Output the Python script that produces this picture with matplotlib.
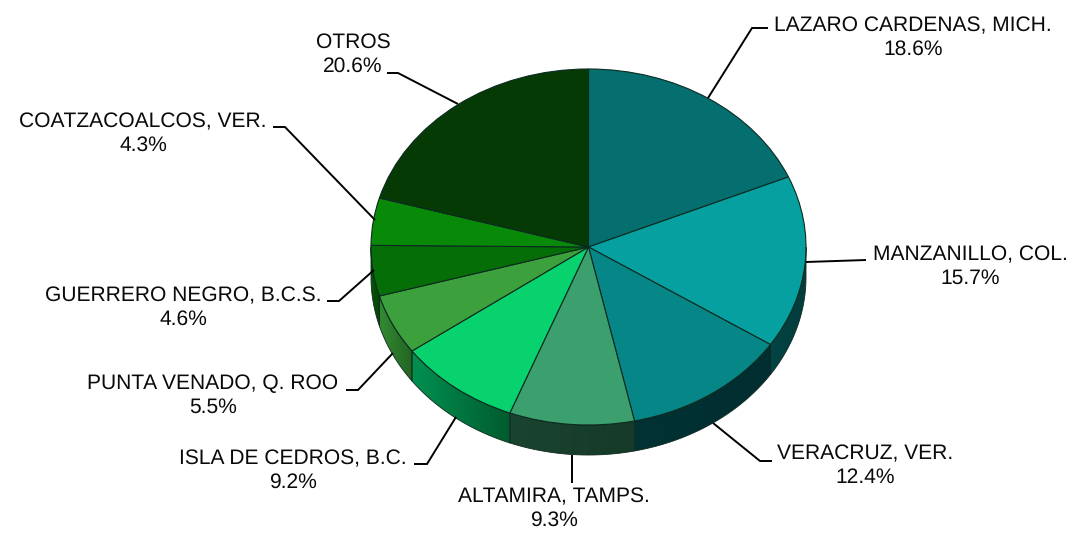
import numpy as np
import matplotlib
matplotlib.use("Agg")
import matplotlib.pyplot as plt
from matplotlib.patches import Polygon
from matplotlib.colors import LinearSegmentedColormap

names = ["LAZARO CARDENAS, MICH.", "MANZANILLO, COL.", "VERACRUZ, VER.", "ALTAMIRA, TAMPS.",
         "ISLA DE CEDROS, B.C.", "PUNTA VENADO, Q. ROO", "GUERRERO NEGRO, B.C.S.",
         "COATZACOALCOS, VER.", "OTROS"]
values = [18.6, 15.7, 12.4, 9.3, 9.2, 5.5, 4.6, 4.3, 20.6]
top_colors = ["#056e6e", "#07a0a0", "#068686", "#3c9f6e", "#08d26e", "#3ca03c", "#066e06", "#088a08", "#053a05"]
rim_left = ["#034040", "#034444", "#013234", "#1a4430", "#009050", "#338a33", "#055505", "#055505", "#032503"]
rim_right = ["#034040", "#033c3c", "#012e30", "#163a28", "#005c2e", "#226622", "#044404", "#044404", "#032503"]

text_centers = [(913, 37.5), (970, 266.5), (865, 465.5), (554, 508.5), (293, 470.5), (213, 395.5), (183, 307.5), (143, 133.5), (353, 54.5)]
leaders = [
    [(708, 98), (752, 28), (768, 28)],
    [(806, 262), (866, 260)],
    [(713, 423), (760, 461), (772, 461)],
    [(572, 455), (572, 483)],
    [(456, 417), (427, 464), (414, 464)],
    [(393, 353), (358, 390), (346, 390)],
    [(374, 270), (339, 301), (327, 301)],
    [(375, 220), (285, 127), (273, 127)],
    [(458, 104), (398, 73), (387, 73)],
]

W, H = 1074, 534
CX, CY, RX, RY, DEPTH = 588.5, 247, 217.5, 178, 30
plt.rcParams["font.family"] = ["Liberation Sans", "DejaVu Sans"]
plt.rcParams["text.hinting"] = "none"
plt.rcParams["text.hinting_factor"] = 1

fig = plt.figure(figsize=(W / 100, H / 100), dpi=100, facecolor="white")
ax = fig.add_axes([0, 0, 1, 1])
ax.set_xlim(0, W)
ax.set_ylim(H, 0)
ax.axis("off")

pie_ax = fig.add_axes([0, 0, 1, 1], facecolor="none")
pie_ax.pie(values, colors=top_colors, startangle=90, counterclock=False, radius=1, center=(0, 0),
           wedgeprops=dict(edgecolor="#0b2a20", linewidth=0.8), frame=True)
pie_ax.set_aspect("auto")
pie_ax.set_xlim(-CX / RX, (W - CX) / RX)
pie_ax.set_ylim((CY - H) / RY, CY / RY)
pie_ax.axis("off")

cum = np.concatenate([[0], np.cumsum(values)]) / sum(values) * 2 * np.pi
for i in range(len(values)):
    a0, a1 = cum[i], cum[i + 1]
    lo, hi = max(a0, np.pi / 2), min(a1, 3 * np.pi / 2)
    if hi <= lo:
        continue
    t = np.linspace(lo, hi, 80)
    x = CX + RX * np.sin(t)
    y = CY - RY * np.cos(t)
    pts = np.column_stack([np.r_[x, x[::-1]], np.r_[y, y[::-1] + DEPTH]])
    poly = Polygon(pts, closed=True, facecolor="none", edgecolor="none")
    ax.add_patch(poly)
    cmap = LinearSegmentedColormap.from_list("rim", [rim_left[i], rim_right[i]])
    x0, x1 = min(x), max(x)
    im = ax.imshow(np.linspace(0, 1, 64)[None, :], cmap=cmap, aspect="auto",
                   extent=(x0, x1, max(y) + DEPTH, min(y)), zorder=1)
    im.set_clip_path(poly)
    outline = Polygon(pts, closed=True, facecolor="none", edgecolor="#10281e", linewidth=0.6, zorder=2)
    ax.add_patch(outline)
ax.set_xlim(0, W)
ax.set_ylim(H, 0)

ov = fig.add_axes([0, 0, 1, 1], facecolor="none")
ov.set_xlim(0, W)
ov.set_ylim(H, 0)
ov.axis("off")
for pts in leaders:
    xs, ys = zip(*pts)
    ov.plot(xs, ys, color="black", lw=1.4, solid_capstyle="butt", solid_joinstyle="miter")
for name, val, (tx, ty) in zip(names, values, text_centers):
    ov.text(tx, ty, f"{name}\n{val:.1f}%", ha="center", va="center", fontsize=15.4,
            color="#0a0a0a", linespacing=1.26)

fig.savefig("out.png", dpi=100)
